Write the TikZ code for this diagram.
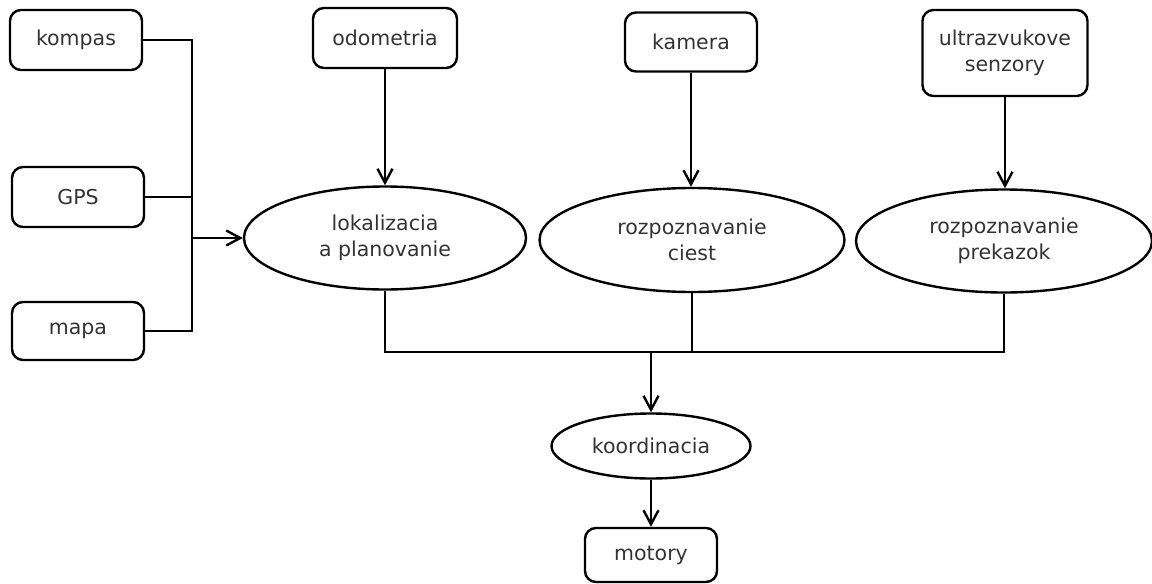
\documentclass[tikz,border=0pt]{standalone}
\usepackage{fontspec}
\setmainfont{DejaVu Sans}
\usetikzlibrary{shapes.geometric,arrows.meta}
\definecolor{txt}{HTML}{333333}
\tikzset{
  every node/.style={font=\fontsize{20.5}{25.5}\selectfont, text=txt, align=center, inner sep=0pt},
  inbox/.style={draw, line width=2.4pt, rounded corners=11pt, minimum width=#1, minimum height=60pt},
  inbox/.default=132pt,
  proc/.style={draw, ellipse, line width=2.4pt},
  wire/.style={line width=2.4pt},
  flow/.style={line width=2.4pt, -{Straight Barb[length=14pt,width=15pt,line width=2.4pt]}}
}
\begin{document}
\begin{tikzpicture}[x=1pt,y=-1pt]
\useasboundingbox (0,0) rectangle (1152,584);

% sensor and data sources
\node[inbox] (kompas) at (76,40) {kompas};
\node[inbox] (gps) at (78,197) {GPS};
\node[inbox, minimum height=58pt] (mapa) at (78,331) {mapa};
\node[inbox=144pt] (odo) at (385,38) {odometria};
\node[inbox, minimum height=59pt] (kam) at (691,42) {kamera};
\node[inbox=165pt, minimum height=86pt] (ultra) at (1005,53) {ultrazvukove\\senzory};

% processing stages
\node[proc, minimum width=282pt, minimum height=103pt] (lok) at (385,238) {lokalizacia\\a planovanie};
\node[proc, minimum width=305pt, minimum height=104pt] (cest) at (692,240) {rozpoznavanie\\ciest};
\node[proc, minimum width=296pt, minimum height=103pt] (prek) at (1004,241) {rozpoznavanie\\prekazok};
\node[proc, minimum width=199pt, minimum height=65pt] (koord) at (651,446) {koordinacia};
\node[inbox, minimum height=54pt] (mot) at (651,555) {motory};

% left bus into localisation
\coordinate (busT) at (192,40);
\coordinate (busB) at (192,331);
\coordinate (busL) at (192,238);
\draw[wire] (kompas.east) -- (busT) -- (busB) -- (mapa.east);
\draw[wire] (gps.east) -- (gps.east -| busT);
\draw[flow] (busL) -- (lok.west);

% sensors into recognition stages
\draw[flow] (odo.south) -- (lok.north);
\draw[flow] (kam.south) -- (kam.south |- cest.north);
\draw[flow] (ultra.south) -- (ultra.south |- prek.north);

% lower bus into coordination
\coordinate (busJ) at (651,352);
\draw[wire] (lok.south) -- (lok.south |- busJ) -- (prek.south |- busJ) -- (prek.south);
\draw[wire] (cest.south) -- (cest.south |- busJ);
\draw[flow] (busJ) -- (koord.north);
\draw[flow] (koord.south) -- (mot.north);
\end{tikzpicture}
\end{document}
